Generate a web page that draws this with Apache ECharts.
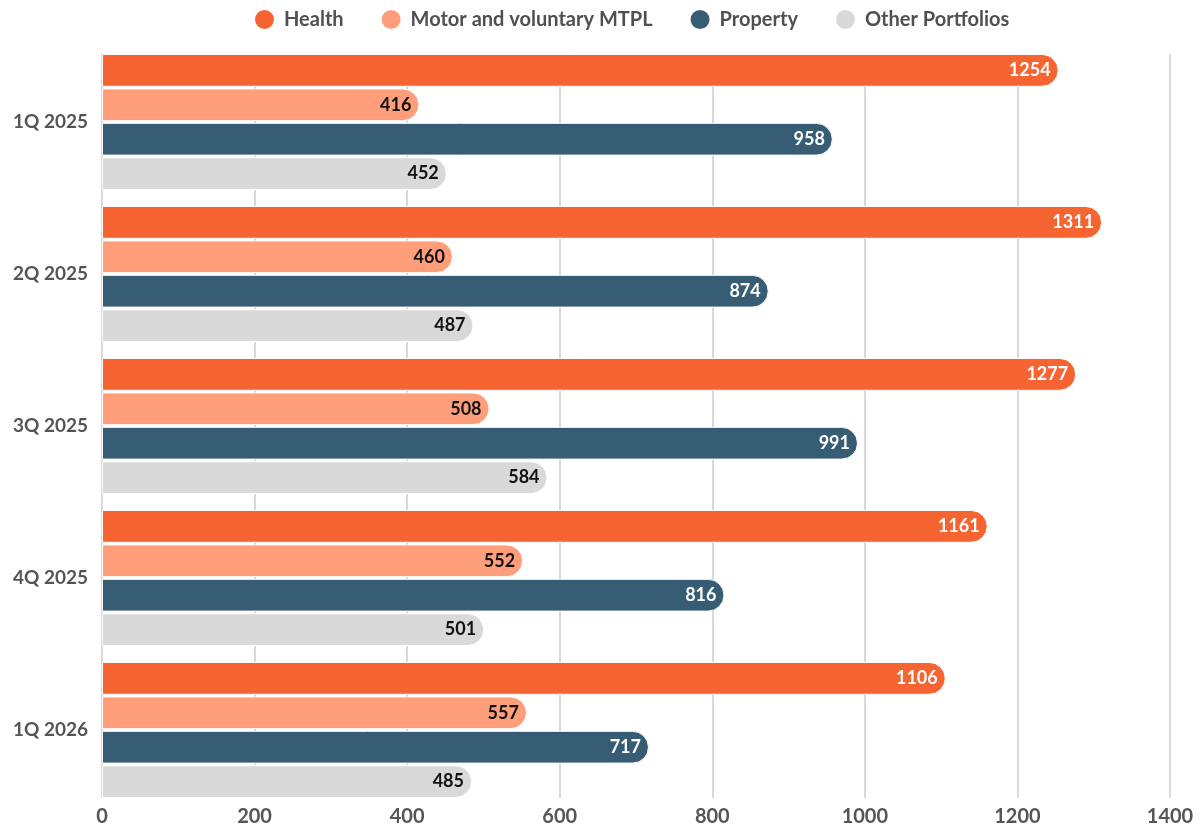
<!DOCTYPE html>
<html>
<head>
<meta charset="utf-8">
<script src="https://cdn.jsdelivr.net/npm/echarts@6/dist/echarts.min.js"></script>
<style>html,body{margin:0;padding:0;background:#fff}#c{width:1203px;height:832px}</style>
</head>
<body>
<div id="c"></div>
<script>
const categories = ['1Q 2025', '2Q 2025', '3Q 2025', '4Q 2025', '1Q 2026'];
const health = [1254, 1311, 1277, 1161, 1106];
const motor = [416, 460, 508, 552, 557];
const property = [958, 874, 991, 816, 717];
const other = [452, 487, 584, 501, 485];
const xTicks = [0, 200, 400, 600, 800, 1000, 1200, 1400];

const font = 'Lato';
function mk(name, data, color, labelColor) {
  return {
    name, type: 'bar', data, xAxisIndex: 0, yAxisIndex: 0,
    barGap: '5%', barCategoryGap: '10.5%',
    itemStyle: { color, borderRadius: [0, 17, 17, 0], borderColor: '#fff', borderWidth: 1 },
    label: { show: true, position: 'insideRight', distance: 8, color: labelColor,
      fontFamily: font, fontWeight: 'bold', fontSize: 18 },
    emphasis: { disabled: true }
  };
}
const chart = echarts.init(document.getElementById('c'));
chart.setOption({
  animation: false,
  textStyle: { fontFamily: font },
  legend: {
    top: 3, left: 248, icon: 'circle', itemWidth: 21, itemHeight: 21, itemGap: 36,
    textStyle: { fontFamily: font, fontSize: 20, fontWeight: 'bold', color: '#505050', padding: [0, 0, 0, 4] }
  },
  grid: [
    { left: 102, right: 33, top: 46, bottom: 26, containLabel: false },
    { left: 102, right: 33, top: 54, bottom: 34, containLabel: false }
  ],
  xAxis: [
    {
      gridIndex: 0, type: 'value', min: 0, max: 1400, interval: 200,
      axisLine: { show: false }, axisTick: { show: false },
      splitLine: { show: false }, axisLabel: { show: false }
    },
    {
      gridIndex: 1, type: 'value', min: 0, max: 1400, interval: 200,
      axisLine: { show: false }, axisTick: { show: false },
      splitLine: { lineStyle: { color: '#d9d9d9', width: 2 } },
      axisLabel: { fontFamily: font, fontSize: 20, fontWeight: 'bold', color: '#555', margin: 9,
        formatter: v => xTicks.includes(v) ? String(v) : '' }
    }
  ],
  yAxis: [
    {
      gridIndex: 0, type: 'category', data: categories, inverse: true,
      axisLine: { show: false }, axisTick: { show: false },
      axisLabel: { fontFamily: font, fontSize: 19, fontWeight: 'bold', color: '#555', margin: 14 }
    },
    {
      gridIndex: 1, type: 'category', data: categories, inverse: true, show: false
    }
  ],
  series: [
    mk('Health', health, '#F56431', '#fff'),
    mk('Motor and voluntary MTPL', motor, '#FE9E7B', '#111'),
    mk('Property', property, '#365D73', '#fff'),
    mk('Other Portfolios', other, '#D9D9D9', '#111')
  ]
});
</script>
</body>
</html>
